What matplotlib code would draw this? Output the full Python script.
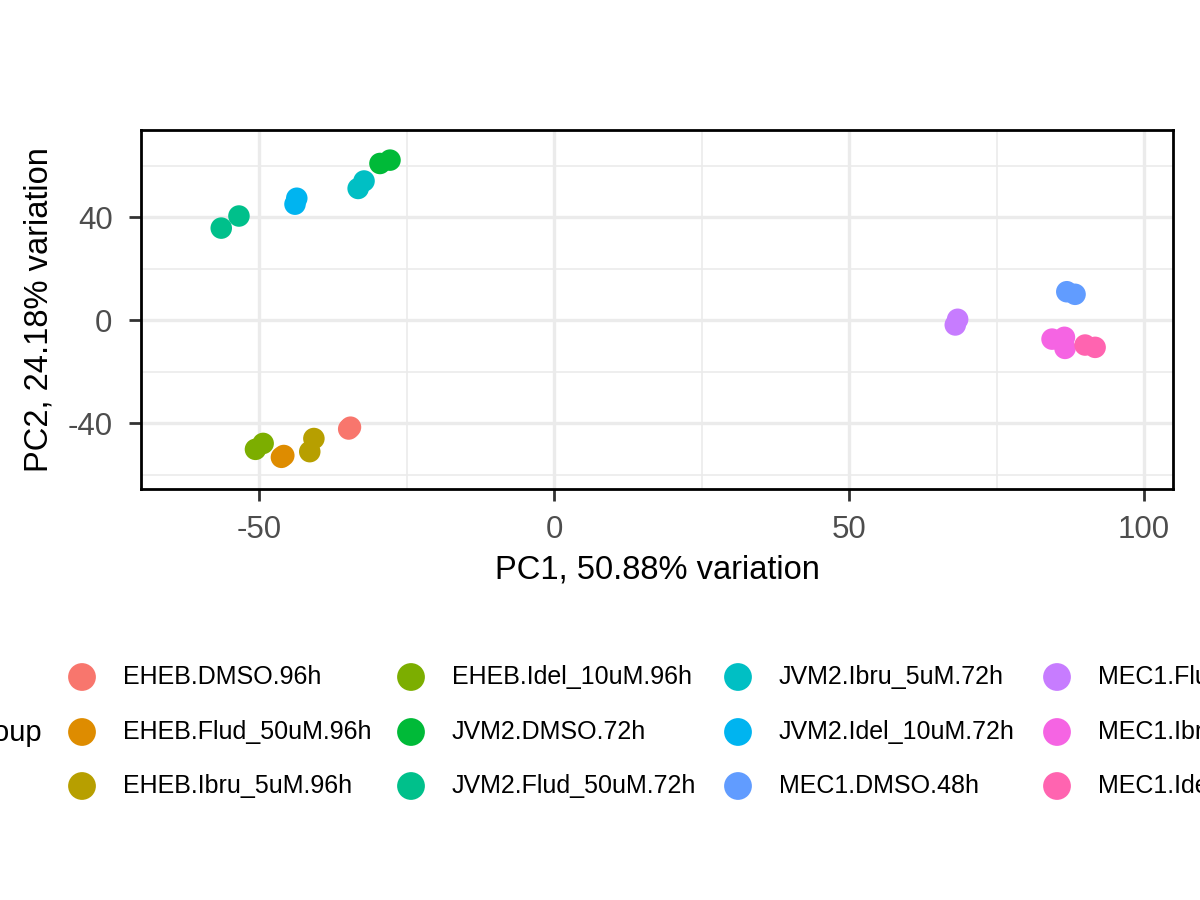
import numpy as np
import matplotlib
matplotlib.use("Agg")
import matplotlib.pyplot as plt

plt.rcParams['font.family'] = ['Liberation Sans', 'DejaVu Sans']
plt.rcParams['axes.unicode_minus'] = False

# groups and their points (PC1, PC2)
groups = ["EHEB.DMSO.96h", "EHEB.Flud_50uM.96h", "EHEB.Ibru_5uM.96h",
          "EHEB.Idel_10uM.96h", "JVM2.DMSO.72h", "JVM2.Flud_50uM.72h",
          "JVM2.Ibru_5uM.72h", "JVM2.Idel_10uM.72h", "MEC1.DMSO.48h",
          "MEC1.Flud_50uM.48h", "MEC1.Ibru_5uM.48h", "MEC1.Idel_10uM.48h"]
colors = ["#F8766D", "#DE8C00", "#B79F00", "#7CAE00", "#00BA38", "#00C08B",
          "#00BFC4", "#00B4F0", "#619CFF", "#C77CFF", "#F564E3", "#FF64B0"]

pc1 = {
    "EHEB.DMSO.96h": [-34.8, -34.5],
    "EHEB.Flud_50uM.96h": [-46.2, -45.8],
    "EHEB.Ibru_5uM.96h": [-41.4, -40.7],
    "EHEB.Idel_10uM.96h": [-50.6, -49.3],
    "JVM2.DMSO.72h": [-29.5, -27.8],
    "JVM2.Flud_50uM.72h": [-56.4, -53.4],
    "JVM2.Ibru_5uM.72h": [-33.2, -32.2],
    "JVM2.Idel_10uM.72h": [-43.9, -43.6],
    "MEC1.DMSO.48h": [86.9, 88.3],
    "MEC1.Flud_50uM.48h": [68.4, 68.0],
    "MEC1.Ibru_5uM.48h": [84.4, 86.5, 86.6],
    "MEC1.Idel_10uM.48h": [90.0, 91.7],
}
pc2 = {
    "EHEB.DMSO.96h": [-42.3, -41.6],
    "EHEB.Flud_50uM.96h": [-53.3, -52.6],
    "EHEB.Ibru_5uM.96h": [-51.1, -46.0],
    "EHEB.Idel_10uM.96h": [-50.2, -47.9],
    "JVM2.DMSO.72h": [60.8, 62.1],
    "JVM2.Flud_50uM.72h": [35.7, 40.4],
    "JVM2.Ibru_5uM.72h": [51.1, 54.0],
    "JVM2.Idel_10uM.72h": [45.0, 47.3],
    "MEC1.DMSO.48h": [11.0, 10.0],
    "MEC1.Flud_50uM.48h": [0.3, -1.9],
    "MEC1.Ibru_5uM.48h": [-7.4, -6.7, -11.0],
    "MEC1.Idel_10uM.48h": [-9.7, -10.6],
}

fig = plt.figure(figsize=(12, 9), dpi=100)
ax = fig.add_axes([141 / 1200, 1 - 489 / 900, 1032 / 1200, 359 / 900])

for g, c in zip(groups, colors):
    ax.scatter(pc1[g], pc2[g], s=240, color=c, edgecolors='none', zorder=3)

ax.set_xlim(-70.0, 104.9)
ax.set_ylim(-65.6, 73.8)
ax.set_xticks([-50, 0, 50, 100])
ax.set_yticks([-40, 0, 40])
ax.set_xticks([-25, 25, 75], minor=True)
ax.set_yticks([-60, -20, 20, 60], minor=True)
ax.grid(True, which='major', color='#EBEBEB', linewidth=2.4, zorder=0)
ax.grid(True, which='minor', color='#EBEBEB', linewidth=1.2, zorder=0)
ax.set_axisbelow(True)
ax.tick_params(which='major', length=8.5, width=2, color='#333333',
               labelsize=22.5, labelcolor='#4D4D4D')
ax.tick_params(axis='x', which='major', pad=10)
ax.tick_params(axis='y', which='major', pad=12)
ax.tick_params(which='minor', length=0)
for sp in ax.spines.values():
    sp.set_linewidth(2)
    sp.set_color('black')
ax.set_xlabel("PC1, 50.88% variation", fontsize=23.5, labelpad=7)
ax.set_ylabel("PC2, 24.18% variation", fontsize=23.5, labelpad=9)

# legend laid out in pixel coordinates, partly running off the figure
lax = fig.add_axes([0, 0, 1, 1])
lax.set_xlim(0, 1200)
lax.set_ylim(900, 0)
lax.axis('off')
key_x = [82, 411, 738, 1057]
row_y = [677, 732, 786]
lax.text(42, 733, "group", fontsize=21, ha='right', va='center')
for i, (g, c) in enumerate(zip(groups, colors)):
    col, row = divmod(i, 3)
    lax.scatter([key_x[col]], [row_y[row]], s=400, color=c, edgecolors='none')
    lax.text(key_x[col] + 41, row_y[row], g, fontsize=18, ha='left', va='center')

fig.savefig("out.png", dpi=100)
